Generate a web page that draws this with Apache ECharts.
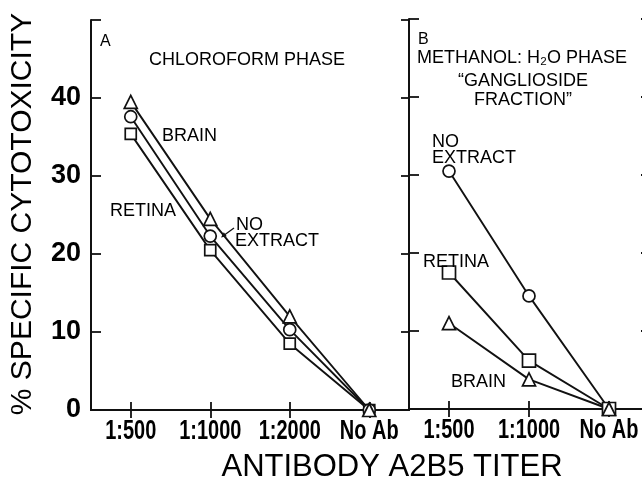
<!DOCTYPE html>
<html>
<head>
    <meta charset="utf-8">
    <title>Antibody A2B5 titer</title>
    <script src="https://cdn.jsdelivr.net/npm/echarts@6/dist/echarts.min.js"></script>
    <style>
        html, body { margin: 0; padding: 0; background: #fff; }
        #main { width: 642px; height: 489px; }
    </style>
</head>
<body>
    <div id="main"></div>
    <script type="text/javascript">
        // titers on the x axis of each panel
        var titersA = ['1:500', '1:1000', '1:2000', 'No Ab'];
        var titersB = ['1:500', '1:1000', 'No Ab'];

        // panel A: chloroform phase
        var chloroBrain = [39.5, 24.5, 12, 0];
        var chloroNoExtract = [37.6, 22.3, 10.3, 0];
        var chloroRetina = [35.4, 20.5, 8.5, 0];

        // panel B: methanol:H2O phase
        var methNoExtract = [30.5, 14.5, 0];
        var methRetina = [17.5, 6.2, 0];
        var methBrain = [11, 3.8, 0];

        var yMax = 50;
        var yStep = 10;

        var black = '#111';

        function xAx(grid, data, pos) {
            return {
                type: 'category', gridIndex: grid, position: pos, data: data,
                boundaryGap: true,
                axisLine: { show: true, lineStyle: { color: black, width: 2 } },
                axisTick: { show: true, inside: true, length: 8, alignWithLabel: true, lineStyle: { color: black, width: 1.8 } },
                // labels are drawn below as condensed text
                axisLabel: { show: false },
                splitLine: { show: false }
            };
        }

        function yAx(grid, pos, showLabel, len) {
            return {
                type: 'value', gridIndex: grid, position: pos, min: 0, max: yMax, interval: yStep,
                axisLine: { show: true, lineStyle: { color: black, width: 2 } },
                axisTick: { show: true, inside: true, length: len, lineStyle: { color: black, width: 1.8 } },
                axisLabel: {
                    show: showLabel, color: '#000', fontFamily: 'Liberation Sans', fontWeight: 'bold',
                    fontSize: 27, margin: 10,
                    formatter: function (v) { return v >= yMax ? '' : String(v); }
                },
                splitLine: { show: false }
            };
        }

        function line(name, data, xi, yi, symbol, size) {
            return {
                name: name, type: 'line', data: data, xAxisIndex: xi, yAxisIndex: yi,
                symbol: symbol, symbolSize: size, showSymbol: true,
                lineStyle: { color: black, width: 1.9 },
                itemStyle: { color: '#fff', borderColor: black, borderWidth: 1.7 },
                animation: false, z: 3
            };
        }

        var labelFont = '18px "Liberation Sans", Arial, sans-serif';
        function txt(s, x, y, align, font) {
            return {
                type: 'text', x: x, y: y, z: 10,
                style: { text: s, font: font || labelFont, fill: '#000', textAlign: align || 'left', textVerticalAlign: 'middle' }
            };
        }

        var myChart = echarts.init(document.getElementById('main'));
        var option = {
            animation: false,
            backgroundColor: '#fff',
            grid: [
                { left: 91, top: 20, width: 318, height: 390, outerBoundsMode: 'none' },
                { left: 409, top: 19, width: 240, height: 390, outerBoundsMode: 'none' }
            ],
            xAxis: [
                xAx(0, titersA, 'bottom'),
                xAx(0, titersA, 'top'),
                xAx(1, titersB, 'bottom'),
                xAx(1, titersB, 'top')
            ],
            yAxis: [
                yAx(0, 'left', true, 10),
                yAx(0, 'right', false, 8),
                yAx(1, 'left', false, 10),
                yAx(1, 'right', false, 8)
            ],
            series: [
                line('RETINA', chloroRetina, 0, 0, 'rect', 11),
                line('NO EXTRACT', chloroNoExtract, 0, 0, 'circle', 12),
                line('BRAIN', chloroBrain, 0, 0, 'triangle', 13),
                line('NO EXTRACT', methNoExtract, 2, 2, 'circle', 12),
                line('RETINA', methRetina, 2, 2, 'rect', 13),
                line('BRAIN', methBrain, 2, 2, 'triangle', 13)
            ]
        };
        myChart.setOption(option);

        var graphics = [
            // axis titles
            {
                type: 'text', x: 23, y: 214, rotation: Math.PI / 2,
                style: { text: '% SPECIFIC CYTOTOXICITY', font: '30px "Liberation Sans", Arial, sans-serif', fill: '#000', textAlign: 'center', textVerticalAlign: 'middle' }
            },
            txt('ANTIBODY A2B5 TITER', 392, 467, 'center', '31px "Liberation Sans", Arial, sans-serif'),
            // panel A
            txt('A', 100, 42, 'left', '16px "Liberation Sans", Arial, sans-serif'),
            txt('CHLOROFORM PHASE', 247, 60, 'center'),
            txt('BRAIN', 162, 136),
            txt('RETINA', 110, 211),
            txt('NO', 236, 225),
            txt('EXTRACT', 235, 241),
            {
                type: 'line', shape: { x1: 234, y1: 228, x2: 223, y2: 236 },
                style: { stroke: black, lineWidth: 1.3 }
            },
            {
                type: 'polygon', shape: { points: [[221, 237.5], [226.8, 236.2], [223.8, 232.2]] },
                style: { fill: black }
            },
            // panel B
            txt('B', 418, 40, 'left', '16px "Liberation Sans", Arial, sans-serif'),
            txt('METHANOL: H\u2082O PHASE', 417, 58),
            txt('\u201CGANGLIOSIDE', 523, 81, 'center'),
            txt('FRACTION\u201D', 523, 100, 'center'),
            txt('NO', 432, 142),
            txt('EXTRACT', 432, 158),
            txt('RETINA', 423, 262),
            txt('BRAIN', 451, 382)
        ];

        // condensed bold tick labels, placed from the category axes
        function tickLabels(cats, xi, yi) {
            var y0 = myChart.convertToPixel({ yAxisIndex: yi }, 0);
            cats.forEach(function (c, i) {
                var x = myChart.convertToPixel({ xAxisIndex: xi }, i);
                graphics.push({
                    type: 'text', x: x, y: y0 + 22, scaleX: 0.74, z: 10,
                    style: { text: c, font: 'bold 27px "Liberation Sans", Arial, sans-serif', fill: '#000', textAlign: 'center', textVerticalAlign: 'middle' }
                });
            });
        }
        tickLabels(titersA, 0, 0);
        tickLabels(titersB, 2, 2);

        myChart.setOption({ graphic: graphics });
    </script>
</body>
</html>
